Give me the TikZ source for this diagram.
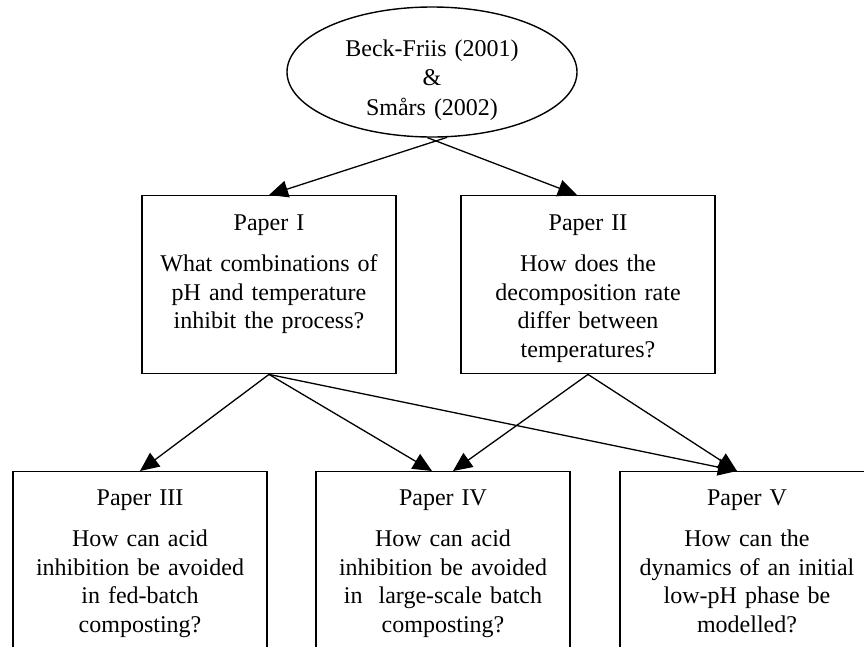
\documentclass[tikz,border=0pt]{standalone}
\usepackage{fontspec}
\setmainfont{Liberation Serif}
\usetikzlibrary{arrows.meta,shapes.geometric}

\tikzset{
  paper/.style={draw, line width=1.4pt, anchor=north, align=center, text width=240pt, inner xsep=7pt, inner ysep=18pt, text height=17pt, text depth=125pt, font=\fontsize{24}{28.5}\selectfont},
  lowpaper/.style={paper, inner ysep=17pt, text depth=200pt},
  link/.style={line width=1.3pt, -{Triangle[length=19pt,width=17pt]}}
}

\begin{document}
\begin{tikzpicture}[x=1pt,y=-1pt]
			%%%%% START %%%%%
			
			\useasboundingbox (0,0) rectangle (864,646);
			\clip (0,0) rectangle (864,646);
			
			\node[ellipse, draw, line width=1.4pt, minimum width=290pt, minimum height=130pt, inner sep=0pt, text width=200pt, align=center, text height=17pt, text depth=49pt, font=\fontsize{24}{29.5}\selectfont] (src) at (432,72) {Beck-Friis (2001)\\\&\\Smårs (2002)};
			
			\node[paper] (p1) at (269,195) {Paper I\\[12.5pt]What combinations of\\pH and temperature\\inhibit the process?};
			\node[paper] (p2) at (588,195) {Paper II\\[12.5pt]How does the\\decomposition rate\\differ between\\temperatures?};
			
			\node[lowpaper] (p3) at (140,471) {Paper III\\[12.5pt]How can acid\\inhibition be avoided\\in fed-batch\\composting?};
			\node[lowpaper] (p4) at (443,471) {Paper IV\\[12.5pt]How can acid\\inhibition be avoided\\in\ \ large-scale batch\\composting?};
			\node[lowpaper] (p5) at (747,471) {Paper V\\[12.5pt]How can the\\dynamics of an initial\\low-pH phase be\\modelled?};
			
			\draw[link] (src.-77) -- (p1.north);
			\draw[link] (src.-94) -- ([xshift=-11pt]p2.north);
			
			\draw[link] (p1.south) -- (p3.north);
			\draw[link] (p1.south) -- ([xshift=-11pt]p4.north);
			\draw[link] (p1.south) -- ([xshift=-10pt]p5.north);
			\draw[link] (p2.south) -- ([xshift=10pt]p4.north);
			\draw[link] (p2.south) -- ([xshift=-10pt]p5.north);
			
			%%%%% END %%%%%
		\end{tikzpicture}
\end{document}
